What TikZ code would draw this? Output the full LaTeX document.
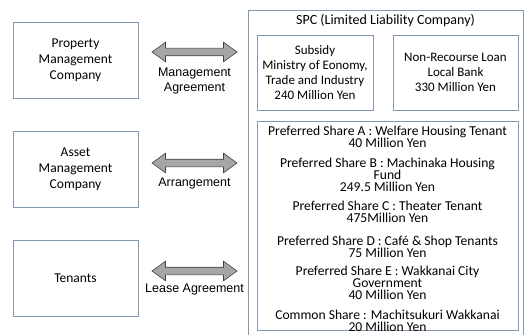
\documentclass[tikz,border=0pt]{standalone}
\usepackage{fontspec}
\setmainfont{Carlito}
\newfontfamily\arialfont{Liberation Sans}
\usepackage{tikz}
\usetikzlibrary{shapes}
\usetikzlibrary{shapes.arrows}
\usetikzlibrary{positioning}
\definecolor{boxline}{HTML}{8497B0}
\definecolor{arrfill}{HTML}{A6A6A6}
\definecolor{arrline}{HTML}{404040}

\begin{document}
\begin{tikzpicture}[x=1pt,y=-1pt,
  party/.style={
    rectangle,
    draw=boxline,
    line width=0.8pt,
    minimum width=125pt,
    minimum height=76pt,
    align=center,
    font=\fontsize{13.5}{16}\selectfont},
  fund/.style 2 args={
    rectangle,
    draw=boxline,
    line width=0.8pt,
    minimum width=#1,
    minimum height=#2,
    inner sep=0pt,
    align=center},
  deal/.style={
    double arrow,
    draw=arrline,
    fill=arrfill,
    line width=0.6pt,
    inner sep=3.5pt,
    minimum height=85pt,
    double arrow head extend=6pt,
    double arrow tip angle=72},
  agree/.style={
    align=center,
    inner sep=0pt,
    font=\arialfont\fontsize{12.5}{15}\selectfont},
  share/.style={
    align=center,
    inner sep=0pt,
    font=\fontsize{13.6}{12}\selectfont},
]

  \useasboundingbox (0,0) rectangle (529,334);
  \clip (0,0) rectangle (529,334);

  \def\leftx{75.5}%
  \def\arrx{194.5}%

    % Parties on the left
  \foreach \name/\y/\txt in {pmc/60/{Property\\Management\\Company},
                             amc/169/{Asset\\Management\\Company},
                             ten/278/{Tenants}} {
    \node[party] (\name) at (\leftx, \y) {\txt};
  }

    % Contracts
  \foreach \step/\y/\ly/\txt in {1/52/80.5/{Management\\Agreement},
                                 2/163/183/{Arrangement},
                                 3/271/289/{Lease Agreement}} {
    \node[deal] (arr\step) at (\arrx, \y) {};
    \node[agree] (lab\step) at (\arrx, \ly) {\txt};
  }

    % SPC
  \node[fund={275pt}{340pt}, anchor=north west] (spc) at (248,10) {};
  \node[font=\fontsize{14}{16}\selectfont] (spctitle) at (385.5,21) {SPC (Limited Liability Company)};

  \node[fund={116pt}{75pt}, font=\fontsize{13}{15}\selectfont] (subsidy) at (315,72.5)
    {Subsidy\\Ministry of Eonomy,\\Trade and Industry\\240 Million Yen};
  \node[fund={125pt}{75pt}, font=\fontsize{13}{15}\selectfont] (loan) at (455.5,72.5)
    {Non-Recourse Loan\\Local Bank\\330 Million Yen};

  \node[fund={261pt}{209pt}, anchor=north west] (equity) at (257,121) {};
  \foreach \i/\y/\txt in {
      a/137/{Preferred Share A : Welfare Housing Tenant\\40 Million Yen},
      b/175/{Preferred Share B : Machinaka Housing\\Fund\\249.5 Million Yen},
      c/212/{Preferred Share C : Theater Tenant\\475Million Yen},
      d/247/{Preferred Share D : Café \& Shop Tenants\\75 Million Yen},
      e/283/{Preferred Share E : Wakkanai City\\Government\\40 Million Yen},
      f/321/{Common Share : Machitsukuri Wakkanai\\20 Million Yen}} {
    \node[share] (sh\i) at (387.5, \y) {\txt};
  }

\end{tikzpicture}
\end{document}
